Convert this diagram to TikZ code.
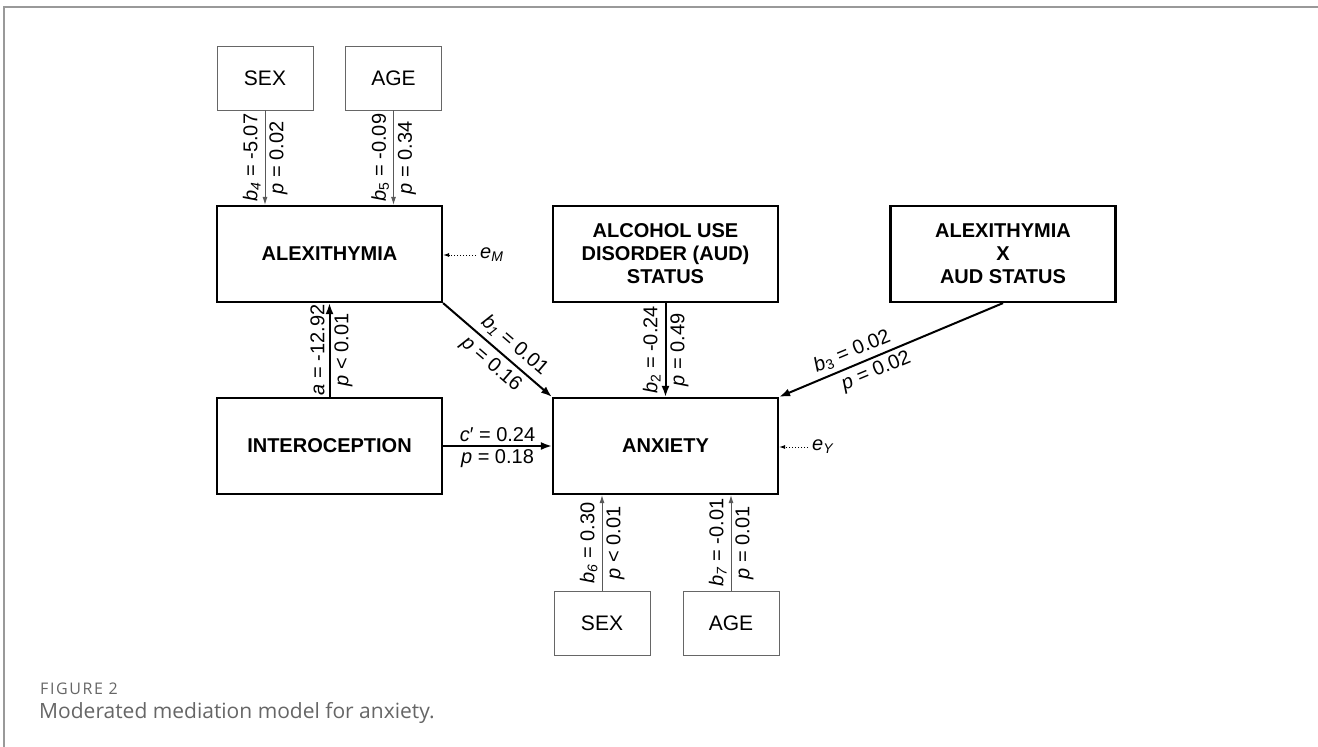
\documentclass[tikz,border=0pt]{standalone}
\usepackage{fontspec}
\setmainfont{Liberation Sans}
\newfontfamily\capfont{Open Sans}
\usetikzlibrary{arrows.meta}

\begin{document}
\begin{tikzpicture}[x=1pt, y=-1pt,
    mainbox/.style={draw, line width=2.2pt, minimum width=225pt, minimum height=96pt,
        align=center, font=\fontsize{20}{23}\selectfont\bfseries},
    ctrlbox/.style={draw=black!60, line width=0.9pt, minimum width=96pt, minimum height=64pt,
        font=\fontsize{21}{24}\selectfont},
    mainarrow/.style={-{Latex[length=11pt,width=8pt]}, line width=2pt},
    ctrlarrow/.style={-{Latex[length=8pt,width=5pt]}, line width=0.9pt, draw=black!65},
    errarrow/.style={-{Latex[length=6pt,width=4pt]}, dash pattern=on 1.5pt off 1.5pt, line width=0.9pt},
    lbl/.style={font=\fontsize{20}{22}\selectfont, inner sep=4pt}
]
    \useasboundingbox (0,0) rectangle (1318,747);
    \draw[black!40, line width=1.5pt] (4,747) -- (4,7) -- (1318,7);

    % boxes
    \node[ctrlbox] (sexA) at (265,78) {SEX};
    \node[ctrlbox] (ageA) at (393.5,78) {AGE};
    \node[mainbox] (alex) at (329.5,254) {ALEXITHYMIA};
    \node[mainbox] (intero) at (329.5,446) {INTEROCEPTION};
    \node[mainbox] (aud) at (665.5,254) {ALCOHOL USE\\DISORDER (AUD)\\STATUS};
    \node[mainbox] (anx) at (665.5,446) {ANXIETY};
    \node[mainbox] (inter) at (1003,254) {ALEXITHYMIA\\X\\AUD STATUS};
    \node[ctrlbox] (sexB) at (602,623) {SEX};
    \node[ctrlbox] (ageB) at (731,623) {AGE};

    % error terms
    \node[lbl, anchor=west] (eM) at (476,255) {\textit{e}\textsubscript{\textit{M}}};
    \node[lbl, anchor=west] (eY) at (808,447) {\textit{e}\textsubscript{\textit{Y}}};
    \draw[errarrow] (eM.west) -- (eM.west -| alex.east);
    \draw[errarrow] (eY.west) -- (eY.west -| anx.east);

    % covariates
    \draw[ctrlarrow] (sexA) -- (sexA |- alex.north)
        node[lbl, midway, rotate=90, above] {\textit{b}\textsubscript{\textit{4}} = -5.07}
        node[lbl, midway, rotate=90, below] {\textit{p} = 0.02};
    \draw[ctrlarrow] (ageA) -- (ageA |- alex.north)
        node[lbl, midway, rotate=90, above] {\textit{b}\textsubscript{5} = -0.09}
        node[lbl, midway, rotate=90, below] {\textit{p} = 0.34};
    \draw[ctrlarrow] (sexB) -- (sexB |- anx.south)
        node[lbl, midway, rotate=90, above] {\textit{b}\textsubscript{\textit{6}} = 0.30}
        node[lbl, midway, rotate=90, below] {\textit{p} < 0.01};
    \draw[ctrlarrow] (ageB) -- (ageB |- anx.south)
        node[lbl, midway, rotate=90, above] {\textit{b}\textsubscript{\textit{7}} = -0.01}
        node[lbl, midway, rotate=90, below] {\textit{p} = 0.01};

    % paths
    \draw[mainarrow] (intero) -- (alex)
        node[lbl, midway, rotate=90, above] {\textit{a} = -12.92}
        node[lbl, midway, rotate=90, below] {\textit{p} < 0.01};
    \draw[mainarrow] (alex.south east) -- (anx.north west)
        node[lbl, pos=0.57, sloped, above, inner sep=5pt] {\textit{b}\textsubscript{\textit{1}} = 0.01}
        node[lbl, pos=0.53, sloped, below, inner sep=5pt] {\textit{p} = 0.16};
    \draw[mainarrow] (aud) -- (anx)
        node[lbl, midway, rotate=90, above] {\textit{b}\textsubscript{2} = -0.24}
        node[lbl, midway, rotate=90, below] {\textit{p} = 0.49};
    \draw[mainarrow] (inter.south) -- (anx.north east)
        node[lbl, pos=0.65, sloped, above, inner sep=4pt] {\textit{b}\textsubscript{3} = 0.02}
        node[lbl, pos=0.59, sloped, below, inner sep=4pt] {\textit{p} = 0.02};
    \draw[mainarrow] (intero) -- (anx)
        node[lbl, midway, above, inner sep=3pt] {\textit{c}′ = 0.24}
        node[lbl, midway, below, inner sep=3pt] {\textit{p} = 0.18};

    % caption
    \node[anchor=west, inner sep=0pt, text=black!60,
        font=\capfont\addfontfeature{LetterSpace=10}\fontsize{16}{18}\selectfont] (fig) at (40,689) {FIGURE 2};
    \node[anchor=west, inner sep=0pt, text=black!60,
        font=\capfont\fontsize{21}{24}\selectfont] (cap) at (39,713) {Moderated mediation model for anxiety.};
\end{tikzpicture}
\end{document}
